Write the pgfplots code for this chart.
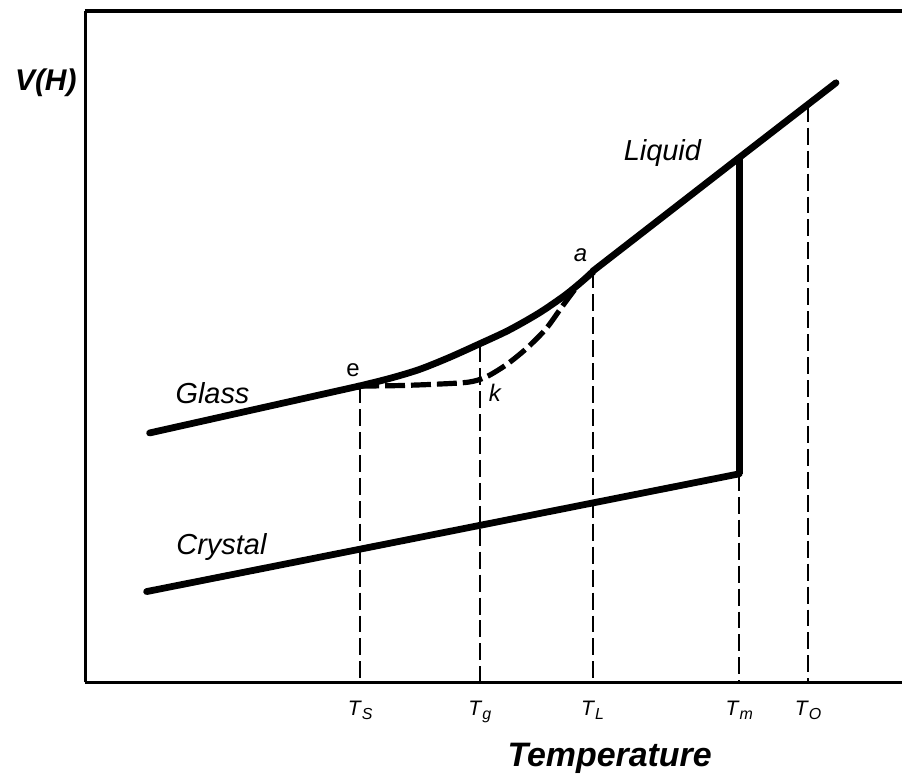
\documentclass[border=0pt]{standalone}
\usepackage{pgfplots}
\pgfplotsset{compat=1.18}
\usepackage{fontspec}
\setmainfont{Liberation Sans}
\newcommand{\Tl}[1]{\textit{T}\raisebox{-0.35ex}{\fontsize{8}{9}\selectfont\textit{#1}}}
\begin{document}
\begin{tikzpicture}
\begin{axis}[
  scale only axis,
  width=409pt, height=337pt,
  xmin=86, xmax=904, ymin=10, ymax=684,
  y dir=reverse,
  clip=false,
  axis line style={draw=none},
  major tick length=0pt,
  ytick=\empty,
  xtick={361,481,594,741,810},
  xticklabels={\Tl{S},\Tl{g},\Tl{L},\Tl{m},\Tl{O}},
  xticklabel style={anchor=base, yshift=-16.5pt, font=\fontsize{10.5}{12}\selectfont},
  xlabel={\bfseries\itshape Temperature},
  ylabel={\bfseries\itshape V(H)},
  every axis x label/.style={at={(axis description cs:0.642,-0.113)}, anchor=center, font=\fontsize{17}{19}\selectfont},
  every axis y label/.style={at={(axis description cs:-0.049,0.892)}, anchor=center, font=\fontsize{15}{17}\selectfont},
]
% bounding box of the whole picture
\path (axis cs:0,0) rectangle (axis cs:904,774);
% frame (left, top, bottom)
\draw[line width=1.6pt] (axis cs:86,684) -- (axis cs:86,11);
\draw[line width=2.2pt] (axis cs:85.2,11) -- (axis cs:904,11);
\draw[line width=1.6pt] (axis cs:85.2,684) -- (axis cs:904,684);

% dashed verticals
\addplot[black, line width=1pt, dash pattern=on 8.5pt off 3pt] coordinates {(361,387) (361,684)};
\addplot[black, line width=1pt, dash pattern=on 8.5pt off 3pt] coordinates {(481,346) (481,684)};
\addplot[black, line width=1pt, dash pattern=on 8.5pt off 3pt] coordinates {(594,272) (594,684)};
\addplot[black, line width=1pt, dash pattern=on 8.5pt off 3pt] coordinates {(741,475) (741,684)};
\addplot[black, line width=1pt, dash pattern=on 8.5pt off 3pt] coordinates {(810,105) (810,684)};

% glass line
\addplot[black, line width=3.4pt, line cap=round] coordinates {(150,434) (360,387)};
% crystal line
\addplot[black, line width=3.4pt, line cap=round] coordinates {(147,593) (741,475)};
% liquid line
\addplot[black, line width=3.4pt, line cap=round] coordinates {(594,272) (741,158) (838,83)};
% melting vertical
\addplot[black, line width=3.4pt] coordinates {(741,158) (741,475)};
% solid transition curve e -> a
\addplot[black, line width=3.4pt, smooth, line join=round] coordinates {
 (358,387.5) (390,379.5) (420,370.5) (450,358.5) (480,345) (510,331) (540,314) (565,297) (580,285) (595,272)};
% dashed curve e -> k -> a
\addplot[black, line width=2.6pt, smooth, dash pattern=on 10pt off 3pt] coordinates {
 (360,387) (400,386.5) (440,385) (470,383) (487,378) (507,366) (527,350) (547,330) (563,308) (578,288) (592,273)};

% labels
\node[font=\fontsize{14.5}{16}\selectfont\itshape] at (axis cs:664,153) {Liquid};
\node[font=\fontsize{14.5}{16}\selectfont\itshape] at (axis cs:213,394) {Glass};
\node[font=\fontsize{14.5}{16}\selectfont\itshape] at (axis cs:222,548) {Crystal};
\node[font=\fontsize{12}{14}\selectfont] at (axis cs:354,371) {e};
\node[font=\fontsize{12}{14}\selectfont\itshape] at (axis cs:582,256) {a};
\node[font=\fontsize{12}{14}\selectfont\itshape] at (axis cs:496,394) {k};
\end{axis}
\end{tikzpicture}
\end{document}
